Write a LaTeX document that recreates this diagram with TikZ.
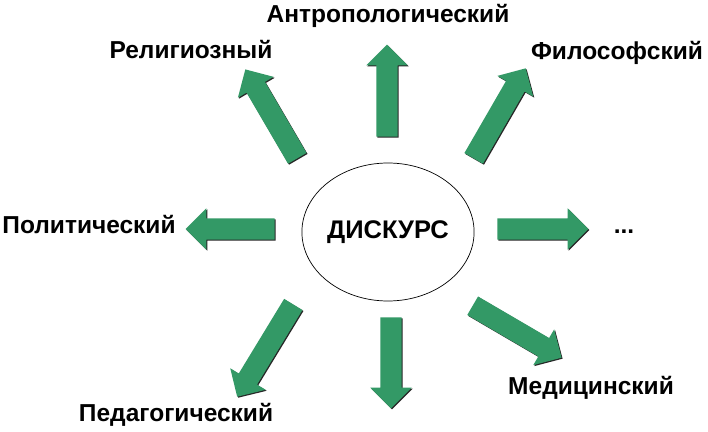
\documentclass[tikz,border=0pt]{standalone}
\usepackage{fontspec}
\setmainfont{Liberation Sans}
\usetikzlibrary{shapes.geometric,shapes.arrows}
\definecolor{arrowgreen}{RGB}{51,153,102}
\tikzset{
  arrowbase/.style={single arrow, draw=none, inner xsep=0pt, inner ysep=10.5pt,
    single arrow head extend=10pt, single arrow tip angle=90,
    single arrow head indent=0pt, minimum width=0pt, anchor=center},
  arrowbody/.style={arrowbase, fill=arrowgreen},
  arrowshadow/.style={arrowbase, fill=black!85},
  lbl/.style={font=\bfseries\fontsize{24.5}{29}\selectfont, anchor=base, inner sep=0pt},
  core/.style={ellipse, draw=black, line width=0.7pt, minimum width=160pt, minimum height=138pt,
    font=\bfseries\fontsize{25.5}{30}\selectfont, inner sep=0pt}
}
\newcommand\blockarr[5]{%
  \node[arrowshadow, rotate=#4, minimum height=#5] (#1s) at (#2+1,#3-1) {};
  \node[arrowbody, rotate=#4, minimum height=#5] (#1) at (#2,#3) {};
}
\begin{document}
\begin{tikzpicture}[x=1pt,y=1pt]
\useasboundingbox (0,0) rectangle (708,431);
\fill[white] (0,0) rectangle (708,431);
% centre
\node[core] (disc) at (388,199) {ДИСКУРС};
% arrows
\blockarr{aup}{387}{335}{90}{92}
\blockarr{arel}{274}{312.5}{120.3}{103}
\blockarr{aphil}{497}{313}{60}{104}
\blockarr{aleft}{235.5}{202}{180}{89}
\blockarr{aright}{537.5}{202}{0}{91}
\blockarr{adown}{391}{73.5}{-90}{91}
\blockarr{aped}{268}{85}{238.7}{108}
\blockarr{amed}{512.5}{102}{-30.3}{103}
% labels
\node[lbl] (lanthr) at (388,408) {Антропологический};
\node[lbl] (lrel) at (191,372) {Религиозный};
\node[lbl] (lphil) at (617,371) {Философский};
\node[lbl] (lpol) at (89,197) {Политический};
\node[lbl] (ldots) at (624,197) {...};
\node[lbl] (lmed) at (591,37) {Медицинский};
\node[lbl] (lped) at (176,10) {Педагогический};
\end{tikzpicture}
\end{document}
